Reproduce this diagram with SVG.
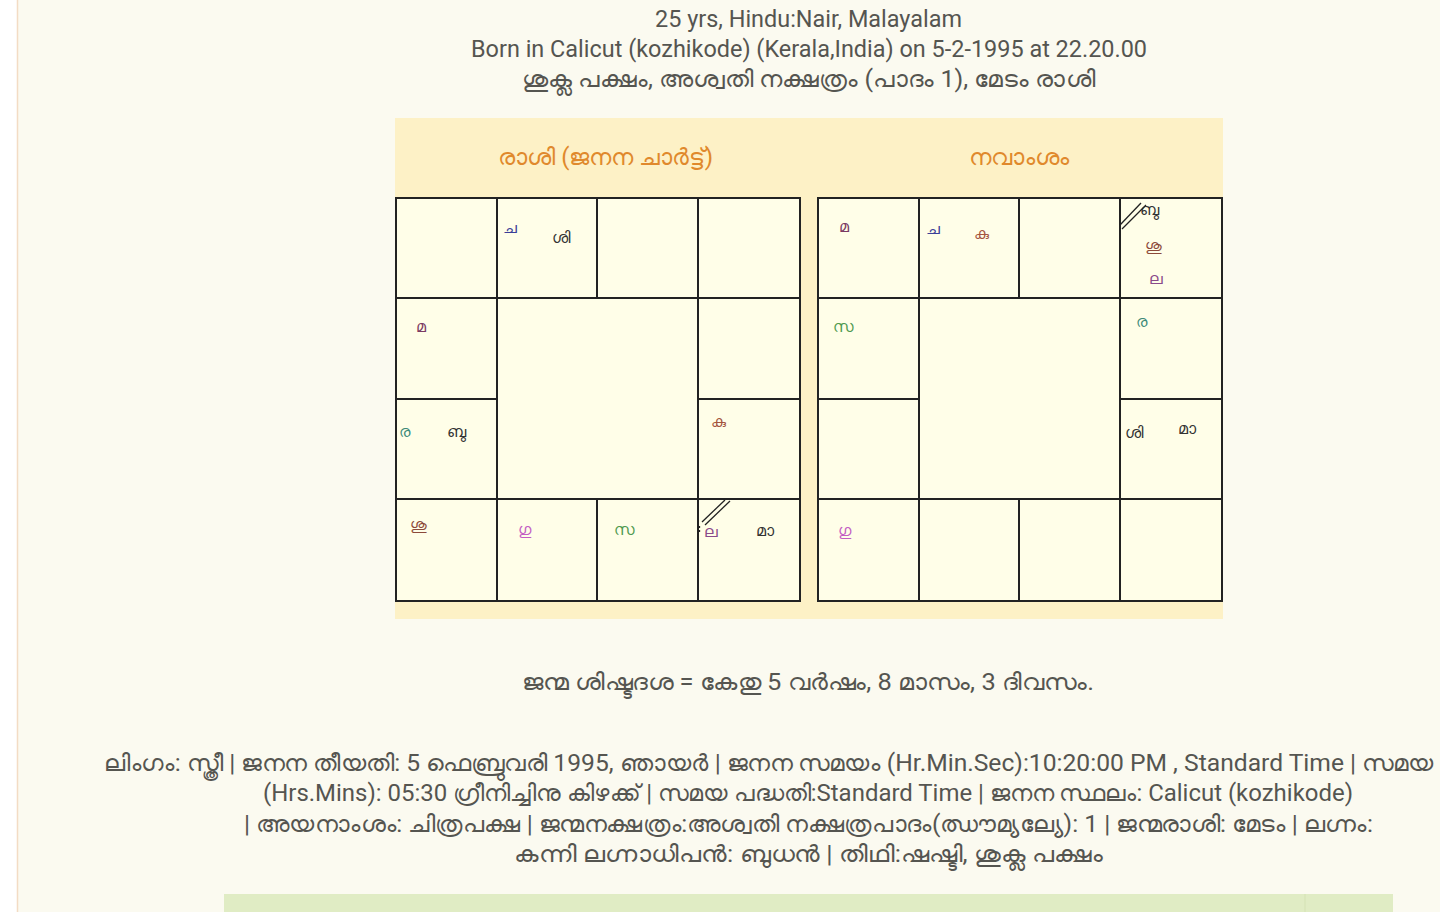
<svg xmlns="http://www.w3.org/2000/svg" width="1440" height="912" viewBox="0 0 1440 912">
<style>
.t{font-family:Roboto,"Noto Sans",sans-serif;font-size:23px;fill:#555550}
.title{font-family:Roboto,"Noto Sans",sans-serif;font-size:23px;fill:#e0892c}
.cell{fill:#fffee8;stroke:#222;stroke-width:2}
.p{font-family:"Noto Sans",Roboto,sans-serif;font-size:16px}
.moon{fill:#3b3f98}.sat{fill:#333}.gul{fill:#7a3a62}.rah{fill:#3d8a78}.mer{fill:#333}
.mar{fill:#a4553f}.ven{fill:#8c4a3a}.jup{fill:#c35cc3}.sun{fill:#4f9a4f}.lag{fill:#8a4a8a}.man{fill:#333}
.sl{stroke:#222;stroke-width:1.3}
</style>
<rect x="0" y="0" width="1440" height="912" fill="#fbfaf0"/>
<rect x="0" y="0" width="17" height="912" fill="#ffffff"/>
<line x1="17.5" y1="0" x2="17.5" y2="912" stroke="#f3dcc4" stroke-width="1.5"/>
<g id="header">
<text class="t" x="655" y="27" textLength="307" lengthAdjust="spacingAndGlyphs">25 yrs, Hindu:Nair, Malayalam</text>
<text class="t" x="471" y="57" textLength="676" lengthAdjust="spacingAndGlyphs">Born in Calicut (kozhikode) (Kerala,India) on 5-2-1995 at 22.20.00</text>
<text class="t" x="522" y="87" textLength="573" lengthAdjust="spacingAndGlyphs">ശുക്ല പക്ഷം, അശ്വതി നക്ഷത്രം (പാദം 1), മേടം രാശി</text>
</g>
<rect x="395" y="118" width="828" height="501" fill="#fdf1c6"/>
<g id="rasi-chart">
<text class="title" x="498" y="165" textLength="215" lengthAdjust="spacingAndGlyphs">രാശി (ജനന ചാർട്ട്)</text>
<rect class="cell" x="396" y="198" width="101" height="100"/>
<rect class="cell" x="497" y="198" width="100" height="100"/>
<rect class="cell" x="597" y="198" width="101" height="100"/>
<rect class="cell" x="698" y="198" width="102" height="100"/>
<rect class="cell" x="396" y="298" width="101" height="101"/>
<rect class="cell" x="497" y="298" width="201" height="201"/>
<rect class="cell" x="698" y="298" width="102" height="101"/>
<rect class="cell" x="396" y="399" width="101" height="100"/>
<rect class="cell" x="698" y="399" width="102" height="100"/>
<rect class="cell" x="396" y="499" width="101" height="102"/>
<rect class="cell" x="497" y="499" width="100" height="102"/>
<rect class="cell" x="597" y="499" width="101" height="102"/>
<rect class="cell" x="698" y="499" width="102" height="102"/>
<text class="p moon" x="503" y="233">ച</text>
<text class="p sat" x="552" y="243">ശി</text>
<text class="p gul" x="416" y="332">മ</text>
<text class="p rah" x="399" y="437">ര</text>
<text class="p mer" x="447" y="437">ബു</text>
<text class="p mar" x="711" y="427">കു</text>
<text class="p ven" x="410" y="530">ശു</text>
<text class="p jup" x="518" y="535">ഗു</text>
<text class="p sun" x="614" y="535">സ</text>
<text class="p lag" x="704" y="537">ല</text>
<text class="p man" x="756" y="536">മാ</text>
<line class="sl" x1="702" y1="522" x2="725" y2="500"/>
<line class="sl" x1="705" y1="525" x2="730" y2="501"/>
<line x1="699.5" y1="526" x2="699.5" y2="533" stroke="#222" stroke-width="1.3" stroke-dasharray="2 2"/>
</g>
<g id="navamsa-chart">
<text class="title" x="969" y="165" textLength="101" lengthAdjust="spacingAndGlyphs">നവാംശം</text>
<rect class="cell" x="818" y="198" width="101" height="100"/>
<rect class="cell" x="919" y="198" width="100" height="100"/>
<rect class="cell" x="1019" y="198" width="101" height="100"/>
<rect class="cell" x="1120" y="198" width="102" height="100"/>
<rect class="cell" x="818" y="298" width="101" height="101"/>
<rect class="cell" x="919" y="298" width="201" height="201"/>
<rect class="cell" x="1120" y="298" width="102" height="101"/>
<rect class="cell" x="818" y="399" width="101" height="100"/>
<rect class="cell" x="1120" y="399" width="102" height="100"/>
<rect class="cell" x="818" y="499" width="101" height="102"/>
<rect class="cell" x="919" y="499" width="100" height="102"/>
<rect class="cell" x="1019" y="499" width="101" height="102"/>
<rect class="cell" x="1120" y="499" width="102" height="102"/>
<text class="p gul" x="839" y="232">മ</text>
<text class="p moon" x="926" y="234">ച</text>
<text class="p mar" x="974" y="239">കു</text>
<text class="p mer" x="1140" y="215">ബു</text>
<line class="sl" x1="1120" y1="225" x2="1141" y2="203"/>
<line class="sl" x1="1122" y1="229" x2="1146" y2="205"/>
<text class="p ven" x="1145" y="251">ശു</text>
<text class="p lag" x="1149" y="284">ല</text>
<text class="p sun" x="833" y="332">സ</text>
<text class="p rah" x="1136" y="327">ര</text>
<text class="p sat" x="1125" y="438">ശി</text>
<text class="p man" x="1178" y="434">മാ</text>
<text class="p jup" x="838" y="536">ഗു</text>
</g>
<g id="details">
<text class="t" x="522" y="690" textLength="572" lengthAdjust="spacingAndGlyphs">ജന്മ ശിഷ്ടദശ = കേതു 5 വർഷം, 8 മാസം, 3 ദിവസം.</text>
<text class="t" x="104" y="771" textLength="1330" lengthAdjust="spacingAndGlyphs">ലിംഗം: സ്ത്രീ | ജനന തീയതി: 5 ഫെബ്രുവരി 1995, ഞായർ | ജനന സമയം (Hr.Min.Sec):10:20:00 PM , Standard Time | സമയ</text>
<text class="t" x="263" y="801" textLength="1090" lengthAdjust="spacingAndGlyphs">(Hrs.Mins): 05:30 ഗ്രീനിച്ചിനു കിഴക്ക് | സമയ പദ്ധതി:Standard Time | ജനന സ്ഥലം: Calicut (kozhikode)</text>
<text class="t" x="244" y="832" textLength="1129" lengthAdjust="spacingAndGlyphs">| അയനാംശം: ചിത്രപക്ഷ | ജന്മനക്ഷത്രം:അശ്വതി നക്ഷത്രപാദം(ഝൗമ്യല്യേ): 1 | ജന്മരാശി: മേടം | ലഗ്നം:</text>
<text class="t" x="514" y="862" textLength="589" lengthAdjust="spacingAndGlyphs">കന്നി ലഗ്നാധിപൻ: ബുധൻ | തിഥി:ഷഷ്ടി, ശുക്ല പക്ഷം</text>
</g>
<rect x="224" y="894" width="1169" height="18" fill="#e0ecc4"/>
<line x1="1305" y1="894" x2="1305" y2="912" stroke="#d4e2b4" stroke-width="1"/>
</svg>
